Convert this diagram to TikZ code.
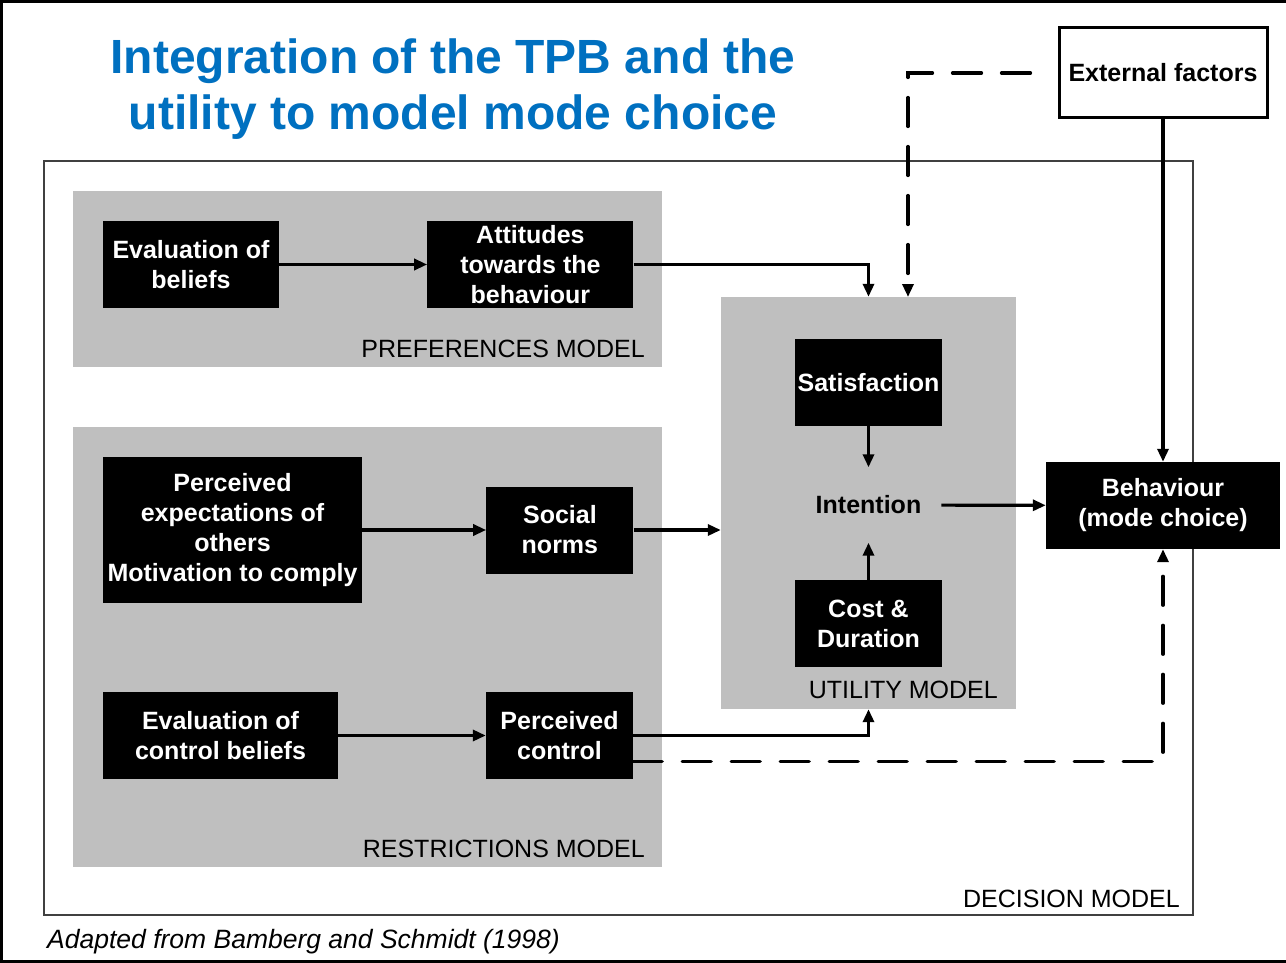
\documentclass[tikz,border=0pt]{standalone}
\usepackage{fontspec}
\setmainfont{Liberation Sans}
\usetikzlibrary{positioning,arrows.meta}
\definecolor{titleblue}{HTML}{0070C0}
\definecolor{modelgray}{HTML}{BFBFBF}

\begin{document}
\begin{tikzpicture}[x=1pt, y=-1pt,
  box/.style={fill=black, text=white, align=center, inner sep=0pt,
    font=\fontsize{25}{30}\selectfont\bfseries, minimum height=87pt},
  model/.style={fill=modelgray, inner sep=0pt},
  tag/.style={anchor=base east, inner sep=0pt, font=\fontsize{25}{28}\selectfont},
  arr/.style={-{Triangle[length=13pt,width=11pt]}, line width=3.2pt},
  dasharr/.style={arr, line cap=round, dash pattern=on 29pt off 20pt}
]
\useasboundingbox (0,0) rectangle (1286,963);
\draw[line width=3pt] (1286,1.5) -- (1.5,1.5) -- (1.5,961) -- (1286,961);

% title and source
\node[text=titleblue, align=center, font=\fontsize{48}{56}\selectfont\bfseries] (title) at (453,89)
  {Integration of the TPB and the\\utility to model mode choice};
\node[anchor=base west, inner sep=0pt, font=\fontsize{26.5}{30}\selectfont\itshape] (source) at (47,948)
  {Adapted from Bamberg and Schmidt (1998)};

% model areas
\node[draw=black!75, line width=1.2pt, minimum width=1149pt, minimum height=754pt, inner sep=0pt] (decision) at (618.5,538) {};
\node[model, minimum width=589pt, minimum height=176pt] (pref) at (367.5,279) {};
\node[model, minimum width=589pt, minimum height=440pt] (restr) at (367.5,647) {};
\node[model, minimum width=295pt, minimum height=412pt] (util) at (868.5,503) {};
\node[tag] (preftag) at (645,357) {PREFERENCES MODEL};
\node[tag] (restrtag) at (645,857) {RESTRICTIONS MODEL};
\node[tag] (utiltag) at (998,698) {UTILITY MODEL};
\node[tag] (decisiontag) at (1180,907) {DECISION MODEL};

% boxes
\node[box, minimum width=176pt] (evalb) at (191,264.5) {Evaluation of\\beliefs};
\node[box, minimum width=206pt, right=148pt of evalb] (att) {Attitudes\\towards the\\behaviour};
\node[box, minimum width=259pt, minimum height=146pt] (percexp) at (232.5,530) {Perceived\\expectations of\\others\\Motivation to comply};
\node[box, minimum width=147pt, right=124pt of percexp] (social) {Social\\norms};
\node[box, minimum width=235pt] (evalc) at (220.5,735.5) {Evaluation of\\control beliefs};
\node[box, minimum width=147pt] (pc) at (559.5,735.5) {Perceived\\control};
\node[box, minimum width=147pt] (sat) at (868.5,382.5) {Satisfaction};
\node[inner xsep=20pt, minimum height=75pt, font=\fontsize{25}{30}\selectfont\bfseries] (intent) at (868.5,505) {Intention};
\node[box, minimum width=147pt] (cost) at (868.5,623.5) {Cost \&\\Duration};
\node[box, minimum width=234pt] (beh) at (1163,505.5) {Behaviour\\(mode choice)};
\node[draw, line width=3pt, fill=white, minimum width=208pt, minimum height=90pt, inner sep=0pt,
  font=\fontsize{25}{30}\selectfont\bfseries] (ext) at (1163,73) {External factors};
\coordinate (extin) at (908,297);

% connectors
\draw[arr] (evalb) -- (att);
\draw[arr] (att.east) -| (util.north);
\draw[dasharr, shorten <=27pt] (ext.west) -| (extin);
\draw[arr] (ext) -- (beh);
\draw[arr] (percexp.east |- social) -- (social);
\draw[arr] (social.east) -- (social.east -| util.west);
\draw[arr] (evalc) -- (pc);
\draw[arr] (pc.east) -| (util.south);
\draw[dasharr] ([yshift=-26pt]pc.east) -| (beh.south);
\draw[arr] (sat) -- (intent);
\draw[arr] (cost) -- (intent);
\draw[arr] (intent) -- (beh);
\end{tikzpicture}
\end{document}
